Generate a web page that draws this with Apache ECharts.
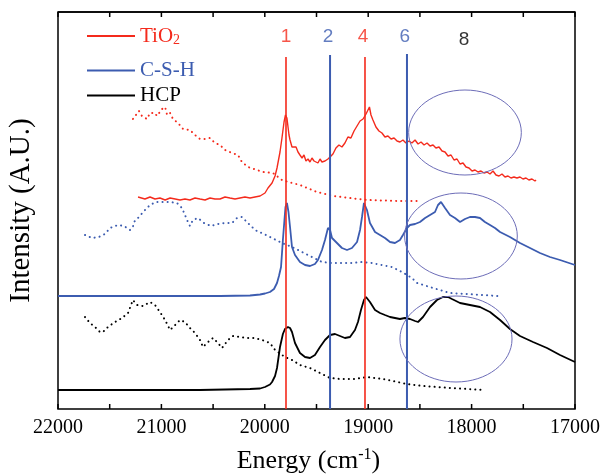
<!DOCTYPE html>
<html><head><meta charset="utf-8">
<script src="https://cdn.jsdelivr.net/npm/echarts@6/dist/echarts.min.js"></script>
<style>html,body{margin:0;padding:0;background:#fff}#c{width:603px;height:476px}</style>
</head><body><div id="c"></div>
<script>
// ---- Data (energy in cm^-1, intensity in arbitrary units) ----
const xRange = [17000, 22000];
const yRange = [0, 397];
const xTicks = [22000, 21000, 20000, 19000, 18000, 17000];
const xTickMarks = [17000, 17500, 18000, 18500, 19000, 19500, 20000, 20500, 21000, 21500, 22000];
const seriesNames = ['TiO2', 'C-S-H', 'HCP'];

const tio2Solid = [
[21226,212],[21159,210],[21110,212],[21062,210],[21014,211],[20964,209],[20916,211],[20867,210],[20820,209],[20772,210],
[20724,209],[20675,211],[20627,210],[20578,209],[20530,211],[20482,210],[20433,210],[20385,212],[20337,211],[20288,210],
[20240,211],[20192,212],[20143,211],[20095,212],[20046,213],[19998,216],[19969,221],[19930,226],[19901,233],[19882,241],
[19853,257],[19834,271],[19814,287],[19800,294],[19786,291],[19766,274],[19756,269],[19737,262],[19718,260],[19698,262],
[19679,257],[19660,254],[19640,251],[19621,254],[19602,248],[19582,250],[19563,247],[19544,251],[19524,248],[19505,249],
[19486,246],[19466,250],[19447,247],[19418,248],[19389,250],[19369,252],[19341,255],[19312,261],[19283,264],[19254,262],
[19225,266],[19196,272],[19167,271],[19137,278],[19108,283],[19079,288],[19050,290],[19021,295],[19002,297],[18988,302],
[18973,294],[18954,289],[18925,282],[18896,278],[18867,276],[18838,272],[18809,273],[18779,270],[18750,271],[18721,268],
[18693,267],[18664,269],[18635,266],[18606,268],[18577,266],[18547,269],[18518,265],[18489,267],[18460,264],[18431,266],
[18402,263],[18373,264],[18345,261],[18315,262],[18286,258],[18257,257],[18228,253],[18199,254],[18170,249],[18141,250],
[18112,245],[18083,246],[18054,242],[18025,241],[17996,238],[17967,239],[17938,237],[17909,238],[17880,236],[17851,237],
[17822,235],[17793,238],[17764,234],[17735,233],[17706,235],[17677,232],[17648,233],[17619,231],[17590,232],[17561,231],
[17532,232],[17503,230],[17474,231],[17446,229],[17416,230],[17387,228],[17377,229]
];
const tio2Dotted = [
[21275,290],[21217,298],[21188,293],[21139,290],[21110,296],[21062,296],[21043,293],[20994,300],[20964,302],[20945,294],
[20916,296],[20888,290],[20839,286],[20791,280],[20724,279],[20675,274],[20627,270],[20578,270],[20530,271],[20482,266],
[20433,264],[20385,259],[20317,256],[20259,254],[20221,247],[20163,242],[20105,240],[20018,237],[19921,236],[19834,229],
[19737,226],[19660,224],[19496,217],[19331,213],[19176,211],[19012,209],[18857,208.5],[18693,208],[18528,208]
];
const cshSolid = [
[22000,113],[21110,113],[20433,113],[20143,113.5],[20046,114.5],[19998,115.5],[19950,117],[19911,120],[19882,126],[19863,133],
[19843,142],[19825,169],[19810,189],[19800,202],[19786,206],[19771,197],[19756,182],[19737,162],[19708,154],[19660,147],
[19611,144],[19563,143],[19515,145],[19486,149],[19447,159],[19418,169],[19389,181],[19369,179],[19350,171],[19302,166],
[19254,161],[19205,159],[19157,161],[19108,167],[19079,179],[19060,192],[19041,206],[19026,208],[19012,199],[18983,186],
[18934,177],[18886,174],[18838,171],[18789,167],[18741,166],[18693,169],[18664,174],[18625,181],[18596,184],[18547,185],
[18499,187],[18450,191],[18402,194],[18354,197],[18325,204],[18296,207],[18257,201],[18209,194],[18161,191],[18112,187],
[18064,190],[18016,192],[17967,192],[17919,191],[17871,187],[17822,184],[17774,181],[17725,177],[17629,172],[17532,166],
[17435,161],[17339,156],[17242,152],[17145,149],[17000,144]
];
const cshDotted = [
[21739,174],[21671,171],[21604,172],[21546,175],[21497,181],[21420,184],[21362,183],[21304,179],[21275,182],[21265,187],
[21217,192],[21168,198],[21110,204],[21052,207],[20985,207],[20916,207],[20849,206],[20801,201],[20772,194],[20743,187],
[20724,183],[20695,189],[20646,191],[20588,186],[20520,183],[20453,185],[20385,186],[20317,186],[20269,191],[20221,192],
[20173,187],[20124,182],[20066,177],[20027,176],[19930,171],[19834,166],[19737,162],[19640,157],[19544,152],[19447,147],
[19350,146],[19254,146],[19157,146],[19060,147],[18963,146],[18867,144],[18770,142],[18673,137],[18577,131],[18528,126],
[18373,121],[18209,116],[18045,115],[17745,113]
];
const hcpSolid = [
[22000,19],[20627,19],[20143,20],[20046,20.5],[19998,22],[19950,24.5],[19930,27],[19901,33],[19882,41],[19853,62],
[19825,75],[19805,80],[19776,82],[19756,81],[19737,77],[19708,66],[19660,56],[19611,52],[19563,51],[19515,54],
[19466,62],[19418,69],[19369,74],[19321,75],[19273,73],[19225,71],[19176,72],[19128,79],[19099,87],[19070,99],
[19041,109],[19021,112],[19002,111],[18983,107],[18934,99],[18886,96],[18838,94],[18789,92],[18741,91],[18693,90],
[18645,91],[18596,90],[18547,88],[18518,87],[18470,92],[18402,102],[18335,109],[18277,112],[18228,112],[18190,110],
[18112,106],[18016,104],[17919,102],[17822,97],[17725,89],[17629,80],[17532,73],[17406,67],[17271,61],[17145,54],[17000,47]
];
const hcpDotted = [
[21739,92],[21691,86],[21642,82],[21594,77],[21565,77],[21517,82],[21449,87],[21381,91],[21323,96],[21275,109],
[21236,104],[21178,103],[21110,107],[21062,104],[21014,97],[20964,89],[20916,79],[20867,84],[20820,89],[20772,87],
[20724,81],[20675,76],[20627,69],[20598,62],[20549,67],[20501,71],[20453,66],[20414,61],[20356,69],[20307,73],
[20240,72],[20173,71],[20095,71],[20027,69],[19950,66],[19901,59],[19805,52],[19737,49],[19660,44],[19563,41],
[19466,36],[19369,31],[19273,30],[19128,30],[19012,32],[18857,30],[18625,25],[18470,23],[18209,21],[17871,19]
];
// Marker lines: position, top, label, colour key
const peakE = [19795, 19369, 19031, 18625];
const peakTop = [352, 354, 352, 355];
const peakColorKey = ['TiO2', 'C-S-H', 'TiO2', 'C-S-H'];
const peakLabels = ['1', '2', '4', '6', '8'];
const peakLabelE = [19795, 19389, 19050, 18645, 18073];
const peakLabelI = [372, 372, 372, 372, 369];
const peakLabelKey = ['TiO2', 'C-S-H', 'TiO2', 'C-S-H', 'HCP'];
// Ellipses: centre energy, centre intensity, half-width (cm^-1), half-height
const ellipses = [
  [18064, 276.5, 545, 42.5],
  [18103, 173, 545, 43],
  [18151, 70, 542, 43]
];

const colors = {'TiO2': '#f42a1c', 'C-S-H': '#3c5cb0', 'HCP': '#000000'};
const serif = 'Liberation Serif, Times New Roman, serif';
const tickLen = 5; // in intensity units (1 unit = 1 px here)

const chart = echarts.init(document.getElementById('c'), null, {renderer: 'canvas'});

const series = [];
function addCurve(name, data, dotted, width) {
  series.push({
    name: dotted ? name + ' (ref)' : name,
    type: 'line', data: data, showSymbol: false, symbol: 'none', smooth: false,
    lineStyle: dotted ? {color: colors[name], width: 2, type: [0.1, 5], cap: 'round'}
                      : {color: colors[name], width: width},
    itemStyle: {color: colors[name]},
    z: dotted ? 2 : 3, silent: true, animation: false
  });
}
addCurve('TiO2', tio2Dotted, true);
addCurve('C-S-H', cshDotted, true);
addCurve('HCP', hcpDotted, true);
addCurve('TiO2', tio2Solid, false, 1.4);
addCurve('C-S-H', cshSolid, false, 1.8);
addCurve('HCP', hcpSolid, false, 1.8);

peakE.forEach((e, i) => {
  series.push({
    type: 'line', data: [[e, yRange[0]], [e, peakTop[i]]], showSymbol: false, symbol: 'none',
    lineStyle: {color: colors[peakColorKey[i]], width: peakColorKey[i] === 'TiO2' ? 1.6 : 2},
    z: 4, silent: true, animation: false
  });
});

// frame top edge and inward tick marks, drawn as line series through the scales
series.push({
  type: 'line', data: [[xRange[0], yRange[1]], [xRange[1], yRange[1]]], showSymbol: false, symbol: 'none',
  lineStyle: {color: '#000', width: 1.5}, z: 8, silent: true, animation: false, clip: false
});
series.push({
  type: 'line', showSymbol: false, symbol: 'none', connectNulls: false, clip: false,
  data: xTickMarks.flatMap(v => [[v, yRange[0]], [v, yRange[0] + tickLen], [v, '-']]),
  lineStyle: {color: '#000', width: 1.5}, z: 8, silent: true, animation: false
});
series.push({
  type: 'line', showSymbol: false, symbol: 'none', connectNulls: false, clip: false,
  data: xTickMarks.flatMap(v => [[v, yRange[1]], [v, yRange[1] - tickLen], [v, '-']]),
  lineStyle: {color: '#000', width: 1.5}, z: 8, silent: true, animation: false
});

series.push({
  type: 'scatter', symbolSize: 0, silent: true, animation: false, z: 5,
  data: peakLabels.map((t, i) => ({
    value: [peakLabelE[i], peakLabelI[i]], name: t,
    label: {show: true, position: 'inside', formatter: t, color: colors[peakLabelKey[i]],
      fontFamily: 'Liberation Sans, Arial, sans-serif', fontSize: 19}
  }))
});

series.push({
  type: 'custom', silent: true, animation: false, z: 6,
  data: ellipses,
  renderItem: function (params, api) {
    const c = api.coord([api.value(0), api.value(1)]);
    const s = api.size([api.value(2), api.value(3)], [api.value(0), api.value(1)]);
    return {type: 'ellipse', shape: {cx: c[0], cy: c[1], rx: Math.abs(s[0]), ry: Math.abs(s[1])},
      style: {fill: 'none', stroke: '#6d6db8', lineWidth: 1}};
  }
});

function legendFor(name, top) {
  return {
    left: 87, top: top, padding: 0, icon: 'rect', itemWidth: 48, itemHeight: 2, selectedMode: false,
    data: [{name: name, textStyle: {color: colors[name]}}],
    formatter: function (n) { return n === 'TiO2' ? '{a|TiO}{b|2}' : '{a|' + n + '}'; },
    textStyle: {fontFamily: serif, fontSize: 21,
      rich: {a: {fontFamily: serif, fontSize: 21, lineHeight: 22},
             b: {fontFamily: serif, fontSize: 14, lineHeight: 22, verticalAlign: 'bottom', padding: [10, 0, 0, 0]}}}
  };
}

chart.setOption({
  animation: false,
  backgroundColor: '#fff',
  grid: {left: 58, right: 28, top: 12, bottom: 67, outerBoundsMode: 'none',
    show: true, borderColor: '#000', borderWidth: 1.5, backgroundColor: 'transparent'},
  legend: [legendFor('TiO2', 23), legendFor('C-S-H', 60), legendFor('HCP', 85)],
  xAxis: {
    type: 'value', min: xRange[0], max: xRange[1], interval: 1000, inverse: true, position: 'bottom',
    axisLine: {show: false, onZero: false}, axisTick: {show: false}, minorTick: {show: false},
    splitLine: {show: false},
    axisLabel: {color: '#000', fontFamily: serif, fontSize: 20, margin: 9,
      formatter: v => xTicks.indexOf(v) >= 0 ? String(v) : ''},
    name: 'Energy (cm{sup|-1})', nameLocation: 'middle', nameGap: 38,
    nameTextStyle: {color: '#000', fontFamily: serif, fontSize: 26, padding: [0, 16, 0, 0],
      rich: {sup: {fontFamily: serif, fontSize: 16, verticalAlign: 'top', padding: [0, 0, 12, 0]}}}
  },
  yAxis: {
    type: 'value', min: yRange[0], max: yRange[1], position: 'left',
    axisLine: {show: false, onZero: false}, axisTick: {show: false}, axisLabel: {show: false}, splitLine: {show: false},
    name: 'Intensity (A.U.)', nameLocation: 'middle', nameGap: 22,
    nameTextStyle: {color: '#000', fontFamily: serif, fontSize: 29}
  },
  series: series
});
</script></body></html>
